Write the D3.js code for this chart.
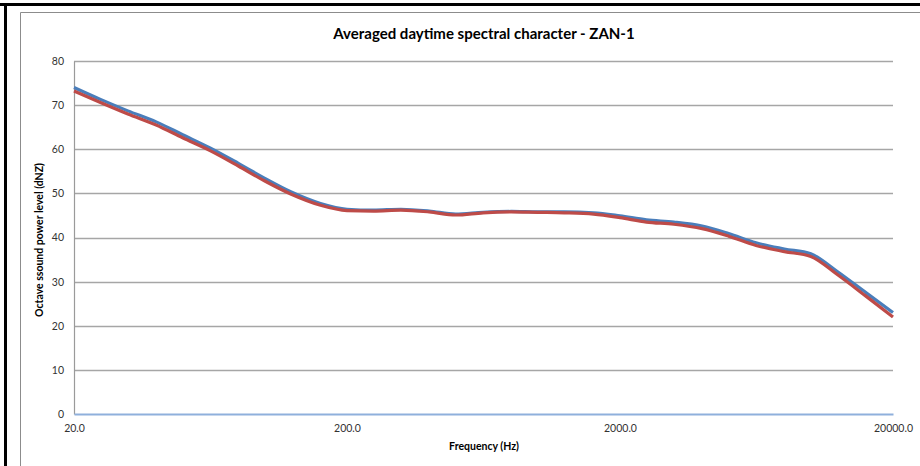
<!DOCTYPE html>
<html>
<head>
<meta charset="utf-8">
<script src="https://cdn.jsdelivr.net/npm/d3@7"></script>
<style>
  html, body { margin: 0; padding: 0; background: #fff; }
  svg { display: block; }
  text { font-family: Lato, "Open Sans", sans-serif; }
</style>
</head>
<body>
<svg id="chart" width="920" height="466"></svg>
<script>
const chartTitle = "Averaged daytime spectral character - ZAN-1";
const xTitle = "Frequency (Hz)";
const yTitle = "Octave ssound power level (dNZ)";

const frequencies = [20,25,31.5,40,50,63,80,100,125,160,200,250,315,400,500,630,800,1000,1250,1600,2000,2500,3150,4000,5000,6300,8000,10000,12500,16000,20000];
const seriesBlue = [74.0,71.3,68.7,66.2,63.3,60.3,56.8,53.4,50.3,47.7,46.4,46.2,46.4,46.0,45.3,45.7,45.9,45.8,45.8,45.6,44.9,44.0,43.5,42.6,40.9,38.8,37.4,36.3,32.3,27.4,23.0];
const seriesRed  = [73.2,70.6,68.0,65.5,62.6,59.7,56.2,52.8,49.8,47.3,46.1,46.0,46.2,45.8,45.1,45.6,45.8,45.7,45.6,45.3,44.5,43.5,43.0,42.0,40.3,38.2,36.8,35.7,31.6,26.6,22.0];

const xTickValues = [20, 200, 2000, 20000];
const xTickLabels = ["20.0", "200.0", "2000.0", "20000.0"];
const yTickValues = [0, 10, 20, 30, 40, 50, 60, 70, 80];

const svg = d3.select("#chart");

// outer black frame
svg.append("rect").attr("x", 0).attr("y", 3).attr("width", 920).attr("height", 3).attr("fill", "#000");
svg.append("rect").attr("x", 4).attr("y", 3).attr("width", 3).attr("height", 463).attr("fill", "#000");

// chart area border
svg.append("path")
  .attr("d", "M20.5,466 V12.5 H920")
  .attr("fill", "none").attr("stroke", "#8c8c8c").attr("stroke-width", 1);

const plotL = 74, plotR = 893, plotT = 61, plotB = 414;
const x = d3.scaleLog().domain([20, 20000]).range([plotL, plotR]);
const y = d3.scaleLinear().domain([0, 80]).range([plotB, plotT]);

// gridlines
svg.append("g")
  .selectAll("line").data(yTickValues.filter(v => v > 0)).join("line")
  .attr("x1", plotL).attr("x2", plotR)
  .attr("y1", d => Math.round(y(d)) + 0.5).attr("y2", d => Math.round(y(d)) + 0.5)
  .attr("stroke", "#a6a6a6").attr("stroke-width", 1.3);

// y axis
const yAxis = d3.axisLeft(y).tickValues(yTickValues).tickSize(0).tickPadding(10);
const gy = svg.append("g").attr("transform", `translate(${plotL},0)`).call(yAxis);
gy.select(".domain").attr("stroke", "#9a9a9a").attr("stroke-width", 1.2);
gy.selectAll("text").attr("font-size", 10.5).attr("fill", "#333");

// x axis
const xAxis = d3.axisBottom(x).tickValues(xTickValues).tickFormat((d, i) => xTickLabels[i]).tickSize(0).tickPadding(11);
const gx = svg.append("g").attr("transform", `translate(0,${plotB})`).call(xAxis);
gx.select(".domain").attr("stroke", "#8fb0dc").attr("stroke-width", 2);
gx.selectAll("text").attr("font-size", 10.5).attr("fill", "#333");

// lines
const line = d3.line().x(d => x(d[0])).y(d => y(d[1])).curve(d3.curveMonotoneX);
const blueData = frequencies.map((f, i) => [f, seriesBlue[i]]);
const redData = frequencies.map((f, i) => [f, seriesRed[i]]);

svg.append("path").datum(blueData).attr("d", line)
  .attr("fill", "none").attr("stroke", "#4a7ebb").attr("stroke-width", 3.2).attr("stroke-linejoin", "round");
svg.append("path").datum(redData).attr("d", line)
  .attr("fill", "none").attr("stroke", "#be4b48").attr("stroke-width", 3.2).attr("stroke-linejoin", "round");

// titles
svg.append("text").attr("x", 484).attr("y", 39).attr("text-anchor", "middle")
  .attr("font-size", 15).attr("font-weight", "bold").attr("fill", "#000").text(chartTitle);
svg.append("text").attr("x", 484).attr("y", 450).attr("text-anchor", "middle")
  .attr("font-size", 10.5).attr("font-weight", "bold").attr("fill", "#000").text(xTitle);
svg.append("text").attr("transform", "translate(43,240) rotate(-90)").attr("text-anchor", "middle")
  .attr("font-size", 10.5).attr("font-weight", "bold").attr("fill", "#000").text(yTitle);
</script>
</body>
</html>
